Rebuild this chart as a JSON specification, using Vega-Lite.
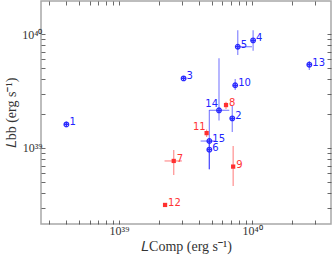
{
  "$schema": "https://vega.github.io/schema/vega-lite/v6.json",
  "width": 290,
  "height": 223,
  "autosize": "none",
  "padding": {"left": 41, "top": 1, "right": 1, "bottom": 36},
  "config": {
    "view": {"stroke": "#a8a8a8", "strokeWidth": 1.5},
    "axis": {
      "grid": false,
      "domain": false,
      "tickSize": -4,
      "tickColor": "#444444",
      "tickWidth": 0.8,
      "labelFont": "Liberation Serif",
      "labelFontSize": 12,
      "labelColor": "#333333",
      "titleFont": "Liberation Serif",
      "titleFontSize": 14,
      "titleFontWeight": "normal",
      "titleColor": "#333333"
    }
  },
  "data": {
    "values": [
      {"id": "1", "g": "b", "lx": 4.02e38, "ly": 1.61e39, "xlo": 3.9e38, "xhi": 4.15e38, "ylo": 1.52e39, "yhi": 1.71e39},
      {"id": "2", "g": "b", "lx": 7.11e39, "ly": 1.82e39, "xlo": 6.9e39, "xhi": 7.3e39, "ylo": 1.38e39, "yhi": 2.33e39},
      {"id": "3", "g": "b", "lx": 3.06e39, "ly": 4.08e39, "xlo": 2.97e39, "xhi": 3.15e39, "ylo": 3.9e39, "yhi": 4.25e39},
      {"id": "4", "g": "b", "lx": 1.02e40, "ly": 8.8e39, "xlo": 1.0e40, "xhi": 1.04e40, "ylo": 7.14e39, "yhi": 1.08e40},
      {"id": "5", "g": "b", "lx": 7.82e39, "ly": 7.74e39, "xlo": 7.7e39, "xhi": 1.0e40, "ylo": 6.55e39, "yhi": 1.08e40},
      {"id": "6", "g": "b", "lx": 4.78e39, "ly": 9.66e38, "xlo": 4.7e39, "xhi": 4.86e39, "ylo": 6.5e38, "yhi": 1.15e39},
      {"id": "7", "g": "r", "lx": 2.58e39, "ly": 7.69e38, "xlo": 2.2e39, "xhi": 2.97e39, "ylo": 5.8e38, "yhi": 9.6e38},
      {"id": "8", "g": "r", "lx": 6.38e39, "ly": 2.38e39, "xlo": 6.25e39, "xhi": 6.5e39, "ylo": 2.2e39, "yhi": 2.55e39},
      {"id": "9", "g": "r", "lx": 7.22e39, "ly": 6.86e38, "xlo": 7.1e39, "xhi": 7.35e39, "ylo": 4.64e38, "yhi": 1.04e39},
      {"id": "10", "g": "b", "lx": 7.48e39, "ly": 3.55e39, "xlo": 7.35e39, "xhi": 7.6e39, "ylo": 3.23e39, "yhi": 4.03e39},
      {"id": "11", "g": "r", "lx": 4.56e39, "ly": 1.35e39, "xlo": 4.45e39, "xhi": 4.67e39, "ylo": 1.25e39, "yhi": 1.45e39},
      {"id": "12", "g": "r", "lx": 2.22e39, "ly": 3.16e38, "xlo": 2.17e39, "xhi": 2.27e39, "ylo": 3.05e38, "yhi": 3.27e38},
      {"id": "13", "g": "b", "lx": 2.7e40, "ly": 5.38e39, "xlo": 2.65e40, "xhi": 2.75e40, "ylo": 4.83e39, "yhi": 5.8e39},
      {"id": "14", "g": "b", "lx": 5.65e39, "ly": 2.14e39, "xlo": 4.78e39, "xhi": 6.75e39, "ylo": 1.74e39, "yhi": 6.12e39},
      {"id": "15", "g": "b", "lx": 4.78e39, "ly": 1.15e39, "xlo": 4.11e39, "xhi": 5.27e39, "ylo": 6.5e38, "yhi": 2.15e39}
    ]
  },
  "layer": [
    {
      "mark": {"type": "rule", "strokeWidth": 1.2, "opacity": 0.55},
      "encoding": {
        "x": {
          "field": "lx", "type": "quantitative",
          "scale": {"type": "log", "domain": [2.59e38, 3.93e40], "nice": false},
          "axis": {
            "orient": "bottom",
            "title": "𝐿Comp (erg s⁻¹)",
            "values": [3e38, 4e38, 5e38, 6e38, 7e38, 8e38, 9e38, 1e39, 2e39, 3e39, 4e39, 5e39, 6e39, 7e39, 8e39, 9e39, 1e40, 2e40, 3e40],
            "labelExpr": "datum.value == 1e39 ? '10³⁹' : datum.value == 1e40 ? '10⁴⁰' : ''",
            "labelPadding": 5,
            "titlePadding": 3
          }
        },
        "y": {
          "field": "ylo", "type": "quantitative",
          "scale": {"type": "log", "domain": [2.15e38, 1.95e40], "nice": false},
          "axis": {
            "orient": "left",
            "title": "𝐿bb (erg s⁻¹)",
            "values": [3e38, 4e38, 5e38, 6e38, 7e38, 8e38, 9e38, 1e39, 2e39, 3e39, 4e39, 5e39, 6e39, 7e39, 8e39, 9e39, 1e40],
            "labelExpr": "datum.value == 1e39 ? '10³⁹' : datum.value == 1e40 ? '10⁴⁰' : ''",
            "labelPadding": 3,
            "titlePadding": 3
          }
        },
        "y2": {"field": "yhi"},
        "color": {"field": "g", "type": "nominal", "scale": {"domain": ["b", "r"], "range": ["#2222ff", "#ff3333"]}, "legend": null}
      }
    },
    {
      "mark": {"type": "rule", "strokeWidth": 1.2, "opacity": 0.55},
      "encoding": {
        "x": {
          "field": "xlo", "type": "quantitative",
          "axis": {
            "orient": "top",
            "title": null,
            "values": [3e38, 4e38, 5e38, 6e38, 7e38, 8e38, 9e38, 1e39, 2e39, 3e39, 4e39, 5e39, 6e39, 7e39, 8e39, 9e39, 1e40, 2e40, 3e40],
            "labels": false
          }
        },
        "x2": {"field": "xhi"},
        "y": {
          "field": "ly", "type": "quantitative",
          "axis": {
            "orient": "right",
            "title": null,
            "values": [3e38, 4e38, 5e38, 6e38, 7e38, 8e38, 9e38, 1e39, 2e39, 3e39, 4e39, 5e39, 6e39, 7e39, 8e39, 9e39, 1e40],
            "labels": false
          }
        },
        "color": {"field": "g", "type": "nominal", "legend": null}
      }
    },
    {
      "transform": [{"filter": "datum.g == 'b'"}],
      "mark": {"type": "point", "shape": "M-1,0A1,1,0,1,1,1,0A1,1,0,1,1,-1,0ZM-1,0L1,0M0,-1L0,1", "filled": false, "size": 22, "strokeWidth": 1.2, "color": "#2a2aff", "opacity": 1},
      "encoding": {
        "x": {"field": "lx", "type": "quantitative", "axis": null},
        "y": {"field": "ly", "type": "quantitative", "axis": null}
      }
    },
    {
      "transform": [{"filter": "datum.g == 'r'"}],
      "mark": {"type": "square", "size": 18, "color": "#ff3030", "opacity": 1},
      "encoding": {
        "x": {"field": "lx", "type": "quantitative", "axis": null},
        "y": {"field": "ly", "type": "quantitative", "axis": null}
      }
    },
    {
      "transform": [{"filter": "datum.id != '14' && datum.id != '11'"}],
      "mark": {"type": "text", "align": "left", "baseline": "middle", "dx": 3, "dy": -2, "font": "DejaVu Sans", "fontSize": 10},
      "encoding": {
        "x": {"field": "lx", "type": "quantitative", "axis": null},
        "y": {"field": "ly", "type": "quantitative", "axis": null},
        "text": {"field": "id"},
        "color": {"field": "g", "type": "nominal", "scale": {"domain": ["b", "r"], "range": ["#1010ff", "#ff2020"]}, "legend": null}
      }
    },
    {
      "transform": [{"filter": "datum.id == '14' || datum.id == '11'"}],
      "mark": {"type": "text", "align": "right", "baseline": "middle", "dx": -1, "dy": -6, "font": "DejaVu Sans", "fontSize": 10},
      "encoding": {
        "x": {"field": "lx", "type": "quantitative", "axis": null},
        "y": {"field": "ly", "type": "quantitative", "axis": null},
        "text": {"field": "id"},
        "color": {"field": "g", "type": "nominal", "legend": null}
      }
    }
  ],
  "resolve": {"axis": {"x": "independent", "y": "independent"}}
}
